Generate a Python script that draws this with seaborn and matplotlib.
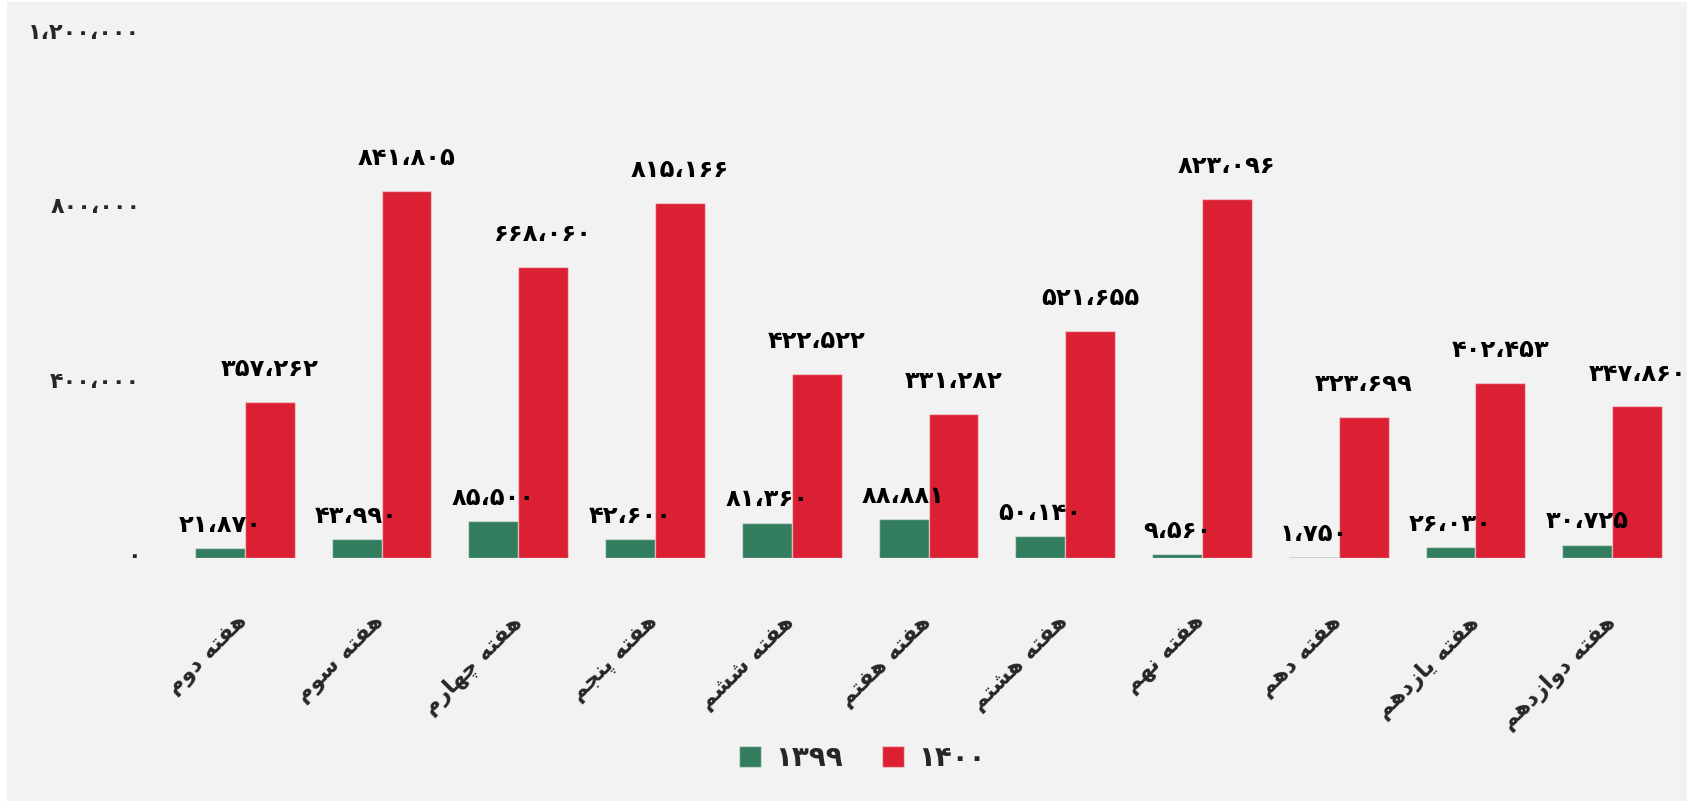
import matplotlib
matplotlib.use("Agg")
import matplotlib.pyplot as plt
from matplotlib.patches import Rectangle
from matplotlib.ticker import FuncFormatter
from matplotlib.transforms import ScaledTranslation
import pandas as pd
import seaborn as sns

# Data
weeks = ["هفته دوم", "هفته سوم", "هفته چهارم", "هفته پنجم", "هفته ششم", "هفته هفتم",
         "هفته هشتم", "هفته نهم", "هفته دهم", "هفته یازدهم", "هفته دوازدهم"]
years = ["1399", "1400"]
sales_1399 = [21870, 43990, 85500, 42600, 81360, 88881, 50140, 9560, 1750, 26030, 30725]
sales_1400 = [357262, 841805, 668060, 815166, 422522, 331282, 521655, 823096, 323699, 402453, 347860]
y_ticks = [0, 400000, 800000, 1200000]

GREEN = "#337d5f"
RED = "#db2034"
BG = "#f2f2f2"

# matplotlib has no arabic shaping -> map to presentation forms (iso, fin, ini, med)
FORMS = {
    "\u0627": "\ufe8d\ufe8e",
    "\u062f": "\ufea9\ufeaa",
    "\u0631": "\ufead\ufeae",
    "\u0632": "\ufeaf\ufeb0",
    "\u0648": "\ufeed\ufeee",
    "\u0628": "\ufe8f\ufe90\ufe91\ufe92",
    "\u067e": "\ufb56\ufb57\ufb58\ufb59",
    "\u062a": "\ufe95\ufe96\ufe97\ufe98",
    "\u062c": "\ufe9d\ufe9e\ufe9f\ufea0",
    "\u0686": "\ufb7a\ufb7b\ufb7c\ufb7d",
    "\u0633": "\ufeb1\ufeb2\ufeb3\ufeb4",
    "\u0634": "\ufeb5\ufeb6\ufeb7\ufeb8",
    "\u0641": "\ufed1\ufed2\ufed3\ufed4",
    "\u0645": "\ufee1\ufee2\ufee3\ufee4",
    "\u0646": "\ufee5\ufee6\ufee7\ufee8",
    "\u0647": "\ufee9\ufeea\ufeeb\ufeec",
    "\u06cc": "\ufbfc\ufbfd\ufbfe\ufbff",
    "\u064a": "\ufbfc\ufbfd\ufbfe\ufbff",
}
FA_DIGITS = str.maketrans("0123456789,", "۰۱۲۳۴۵۶۷۸۹،")


def shape(text):
    out = []
    for i, ch in enumerate(text):
        f = FORMS.get(ch)
        if f is None:
            out.append(ch)
            continue
        prev = text[i - 1] if i > 0 else ""
        nxt = text[i + 1] if i + 1 < len(text) else ""
        join_prev = len(FORMS.get(prev, "")) == 4
        join_next = len(f) == 4 and nxt in FORMS
        idx = 3 if (join_prev and join_next) else 1 if join_prev else 2 if join_next else 0
        out.append(f[idx])
    return "".join(reversed(out))


def fa_num(v):
    return f"{int(v):,}".translate(FA_DIGITS)


sns.set_style("white", {"axes.facecolor": BG})
plt.rcParams["font.family"] = ["DejaVu Sans"]
plt.rcParams["font.weight"] = "bold"

df = pd.DataFrame({
    "week": weeks * 2,
    "year": [years[0].translate(FA_DIGITS)] * len(weeks) + [years[1].translate(FA_DIGITS)] * len(weeks),
    "sales": sales_1399 + sales_1400,
})

fig = plt.figure(figsize=(16.87, 8.01), dpi=100, facecolor="white")
fig.patches.append(Rectangle((7 / 1687, 0), 1, 1 - 2 / 801, transform=fig.transFigure,
                             facecolor=BG, edgecolor="none", zorder=-10))
ax = fig.add_axes([0.1046, 0.3034, 0.8916, 0.6529])

sns.barplot(data=df, x="week", y="sales", hue="year", palette=[GREEN, RED],
            width=0.73, ax=ax, edgecolor=(1, 1, 1, 0.45), linewidth=1, saturation=1)

for i, (cont, vals) in enumerate(zip(ax.containers, [sales_1399, sales_1400])):
    ax.bar_label(cont, labels=[fa_num(v) for v in vals], padding=8 if i == 0 else 15,
                 fontsize=17.5, fontweight="bold", color="black", zorder=5)

ax.set_xlim(-0.5, len(weeks) - 0.5)
ax.set_ylim(0, 1200000)
ax.set_yticks(y_ticks)
ax.yaxis.set_major_formatter(FuncFormatter(lambda v, p: fa_num(v)))
ax.set_xticks(range(len(weeks)))
ax.set_xticklabels([shape(w) for w in weeks], rotation=45, ha="right",
                   rotation_mode="anchor", va="center", fontsize=16, fontweight="bold")
ax.tick_params(axis="y", length=0, pad=26, labelsize=16)
ax.tick_params(axis="x", length=0, pad=44)
ax.set_xlabel("")
ax.set_ylabel("")
ax.set_facecolor(BG)
sns.despine(ax=ax, left=True, bottom=True)

# y labels sit a few pixels above their gridline in the original
up = ScaledTranslation(0, 4 / 100, fig.dpi_scale_trans)
for lbl in ax.get_yticklabels():
    lbl.set_transform(lbl.get_transform() + up)

handles, labels = ax.get_legend_handles_labels()
ax.legend(handles, labels, loc="center", bbox_to_anchor=(0.511, 0.0537),
          bbox_transform=fig.transFigure, ncol=2, frameon=False, fontsize=20,
          handlelength=0.8, handleheight=0.8, handletextpad=0.5, columnspacing=1.4)

fig.savefig("out.png", dpi=100, facecolor=fig.get_facecolor())
